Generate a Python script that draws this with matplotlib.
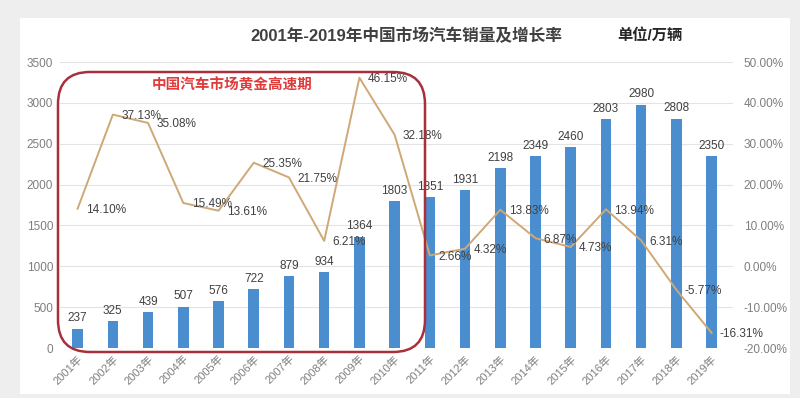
import matplotlib.pyplot as plt
from matplotlib.patches import FancyBboxPatch, Rectangle
from matplotlib.transforms import IdentityTransform
from matplotlib.ticker import FuncFormatter

plt.rcParams['font.family'] = ['Liberation Sans', 'Noto Sans CJK SC', 'DejaVu Sans']

years = ['2001年', '2002年', '2003年', '2004年', '2005年', '2006年', '2007年',
         '2008年', '2009年', '2010年', '2011年', '2012年', '2013年', '2014年',
         '2015年', '2016年', '2017年', '2018年', '2019年']
sales = [237, 325, 439, 507, 576, 722, 879, 934, 1364, 1803,
         1851, 1931, 2198, 2349, 2460, 2803, 2980, 2808, 2350]
growth = [14.10, 37.13, 35.08, 15.49, 13.61, 25.35, 21.75, 6.21, 46.15, 32.18,
          2.66, 4.32, 13.83, 6.87, 4.73, 13.94, 6.31, -5.77, -16.31]

bar_color = '#4A8ED0'
line_color = '#CFA877'
text_color = '#404040'
tick_color = '#7F7F7F'

fig = plt.figure(figsize=(8, 3.98), dpi=100)
fig.patch.set_facecolor('#EEEEEE')
fig.patches.append(Rectangle((20 / 800, 4 / 398), 770 / 800, 376 / 398,
                             transform=fig.transFigure, facecolor='white',
                             edgecolor='none', zorder=-10))

ax = fig.add_axes([0.075, 0.1256, 0.841, 0.7186])
ax.set_facecolor('none')
x = list(range(len(years)))

ax.bar(x, sales, width=0.3, color=bar_color, zorder=2)
for xi, v in zip(x, sales):
    ax.annotate(str(v), (xi, v), xytext=(0, 3), textcoords='offset points',
                ha='center', va='bottom', fontsize=8.5, color=text_color)

ax.set_ylim(0, 3500)
ax.set_yticks(range(0, 3501, 500))
ax.set_xlim(-0.5, 18.6)
ax.set_xticks(x)
ax.set_xticklabels(years, rotation=45, ha='right', rotation_mode='anchor',
                   fontsize=8, color=tick_color)
ax.tick_params(axis='y', labelsize=8.5, colors=tick_color, length=0, pad=5)
ax.tick_params(axis='x', length=0, pad=4)
ax.grid(axis='y', color='#E3E3E3', linewidth=0.8, zorder=0)
for s in ax.spines.values():
    s.set_visible(False)

ax2 = ax.twinx()
ax2.plot(x, growth, color=line_color, linewidth=1.4, zorder=3)
for xi, g in zip(x, growth):
    ax2.annotate(f'{g:.2f}%', (xi, g), xytext=(6, -1), textcoords='offset points',
                 ha='left', va='center', fontsize=8.5, color=text_color)
ax2.set_ylim(-20, 50)
ax2.set_yticks(range(-20, 51, 10))
ax2.yaxis.set_major_formatter(FuncFormatter(lambda v, p: f'{v:.2f}%'))
ax2.tick_params(axis='y', labelsize=8.5, colors=tick_color, length=0, pad=8)
for s in ax2.spines.values():
    s.set_visible(False)

# rounded highlight box (pixel coords, origin bottom-left)
box = FancyBboxPatch((58, 46), 367, 280, boxstyle='round,pad=0,rounding_size=32',
                     transform=IdentityTransform(), facecolor='none',
                     edgecolor='#A8303C', linewidth=1.8, zorder=5)
fig.patches.append(box)
fig.text(232 / 800, 1 - 85 / 398, '中国汽车市场黄金高速期', ha='center', va='center',
         fontsize=10.5, fontweight='bold', color='#E03C3C')

fig.text(406 / 800, 1 - 36 / 398, '2001年-2019年中国市场汽车销量及增长率',
         ha='center', va='center', fontsize=12, fontweight='bold', color='#404040')
fig.text(650 / 800, 1 - 36 / 398, '单位/万辆', ha='center', va='center',
         fontsize=11, fontweight='bold', color='#262626')

fig.savefig('out.png', dpi=100, facecolor=fig.get_facecolor())
